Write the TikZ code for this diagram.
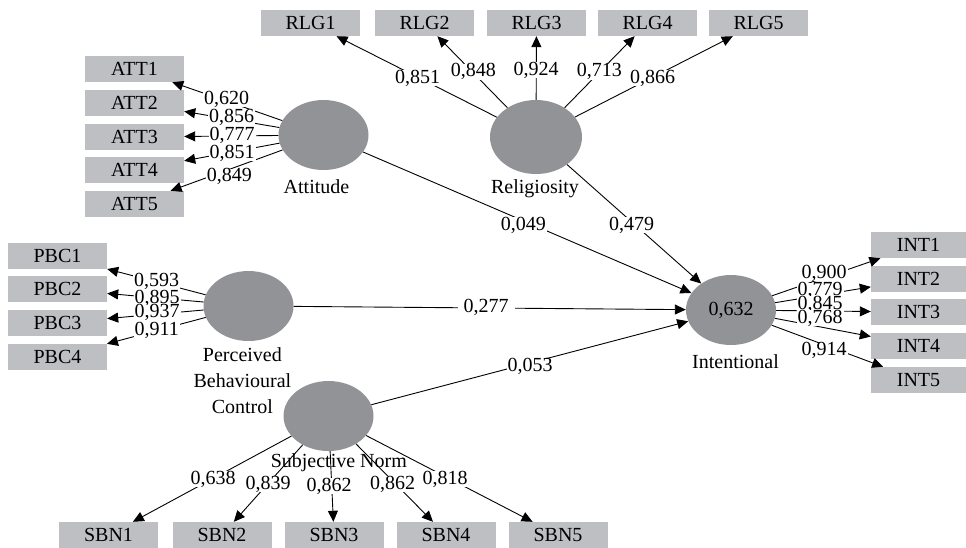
\documentclass[tikz,border=0pt]{standalone}
\usepackage{fontspec}
\setmainfont{Liberation Serif}
\usetikzlibrary{arrows.meta,shapes.geometric}
\definecolor{boxgray}{RGB}{190,191,195}
\definecolor{latgray}{RGB}{146,147,151}
\begin{document}
\begin{tikzpicture}[x=1pt,y=-1pt,
  txt/.style={font=\fontsize{20}{26}\selectfont},
  ind/.style={txt, rectangle, fill=boxgray, minimum width=99pt, minimum height=26pt, inner sep=0pt},
  indr/.style={ind, minimum width=95pt},
  lat/.style={txt, ellipse, fill=latgray, minimum width=90pt, minimum height=70pt, inner sep=0pt},
  conn/.style={line width=0.9pt, -{Triangle[length=11pt,width=10pt]}},
  lbl/.style={txt, fill=white, inner xsep=1pt, inner ysep=0pt},
  captext/.style={txt, align=center, inner sep=0pt}]
\useasboundingbox (0,0) rectangle (966,547);
% latent variables
\node[lat] (att) at (323.5,135) {};
\node[lat, minimum width=92pt, minimum height=74pt] (rel) at (536,137) {};
\node[lat] (pbc) at (248.5,306) {};
\node[lat] (sbn) at (328.5,416) {};
\node[lat] (int) at (731,310) {0,632};
% captions
\node[captext] (catt) at (316.5,187) {Attitude};
\node[captext] (crel) at (535,189) {Religiosity};
\node[captext] (cpbc) at (242.4,381) {Perceived\\Behavioural\\Control};
\node[captext] (csbn) at (338.8,463) {Subjective Norm};
\node[captext] (cint) at (735.5,362) {Intentional};
% indicators
\node[ind] (rlg1) at (310.5,23) {RLG1};
\node[ind] (rlg2) at (424.5,23) {RLG2};
\node[ind] (rlg3) at (536.5,23) {RLG3};
\node[ind] (rlg4) at (647.5,23) {RLG4};
\node[ind] (rlg5) at (758.5,23) {RLG5};
\node[ind] (att1) at (134.5,69) {ATT1};
\node[ind] (att2) at (134.5,103) {ATT2};
\node[ind] (att3) at (134.5,137) {ATT3};
\node[ind] (att4) at (134.5,170) {ATT4};
\node[ind] (att5) at (134.5,204) {ATT5};
\node[ind] (pbc1) at (57.5,256) {PBC1};
\node[ind] (pbc2) at (57.5,289) {PBC2};
\node[ind] (pbc3) at (57.5,323) {PBC3};
\node[ind] (pbc4) at (57.5,357) {PBC4};
\node[indr] (int1) at (918.5,245) {INT1};
\node[indr] (int2) at (918.5,279) {INT2};
\node[indr] (int3) at (918.5,312) {INT3};
\node[indr] (int4) at (918.5,345.5) {INT4};
\node[indr] (int5) at (918.5,380) {INT5};
\node[ind] (sbn1) at (108.5,535) {SBN1};
\node[ind] (sbn2) at (222,535) {SBN2};
\node[ind] (sbn3) at (334,535) {SBN3};
\node[ind] (sbn4) at (446,535) {SBN4};
\node[ind] (sbn5) at (558,535) {SBN5};
% connectors
\foreach \i in {1,...,5} {\draw[conn] (rel) -- (rlg\i); \draw[conn] (att) -- (att\i); \draw[conn] (int) -- (int\i); \draw[conn] (sbn) -- (sbn\i);}
\foreach \i in {1,...,4} {\draw[conn] (pbc) -- (pbc\i);}
\draw[conn] (att) -- (int);
\draw[conn] (rel) -- (int);
\draw[conn] (pbc) -- (int);
\draw[conn] (sbn) -- (int);
% loading labels
\node[lbl] (la1) at (226.7,99) {0,620};
\node[lbl] (la2) at (231.7,117.3) {0,856};
\node[lbl] (la3) at (232,135) {0,777};
\node[lbl] (la4) at (232,153.3) {0,851};
\node[lbl] (la5) at (229.3,176.7) {0,849};
\node[lbl] (lr1) at (417.7,78.3) {0,851};
\node[lbl] (lr2) at (473.3,71.7) {0,848};
\node[lbl] (lr3) at (536,70) {0,924};
\node[lbl] (lr4) at (599.3,71.7) {0,713};
\node[lbl] (lr5) at (652.7,78.3) {0,866};
\node[lbl] (lp1) at (156.7,281.7) {0,593};
\node[lbl] (lp2) at (157,298.3) {0,895};
\node[lbl] (lp3) at (157,312.7) {0,937};
\node[lbl] (lp4) at (156.7,330) {0,911};
\node[lbl] (li1) at (824,273.3) {0,900};
\node[lbl] (li2) at (820,290.7) {0,779};
\node[lbl] (li3) at (820,304) {0,845};
\node[lbl] (li4) at (820,318.3) {0,768};
\node[lbl] (li5) at (824,350.7) {0,914};
\node[lbl] (ls1) at (213,479) {0,638};
\node[lbl] (ls2) at (268,484) {0,839};
\node[lbl] (ls3) at (329,486) {0,862};
\node[lbl] (ls4) at (392.7,484) {0,862};
\node[lbl] (ls5) at (445,479) {0,818};
% path labels
\node[lbl] (p1) at (523.3,225) {0,049};
\node[lbl] (p2) at (631.7,225) {0,479};
\node[lbl, inner xsep=6pt] (p3) at (486,307.3) {0,277};
\node[lbl] (p4) at (530,366.7) {0,053};
\end{tikzpicture}
\end{document}
